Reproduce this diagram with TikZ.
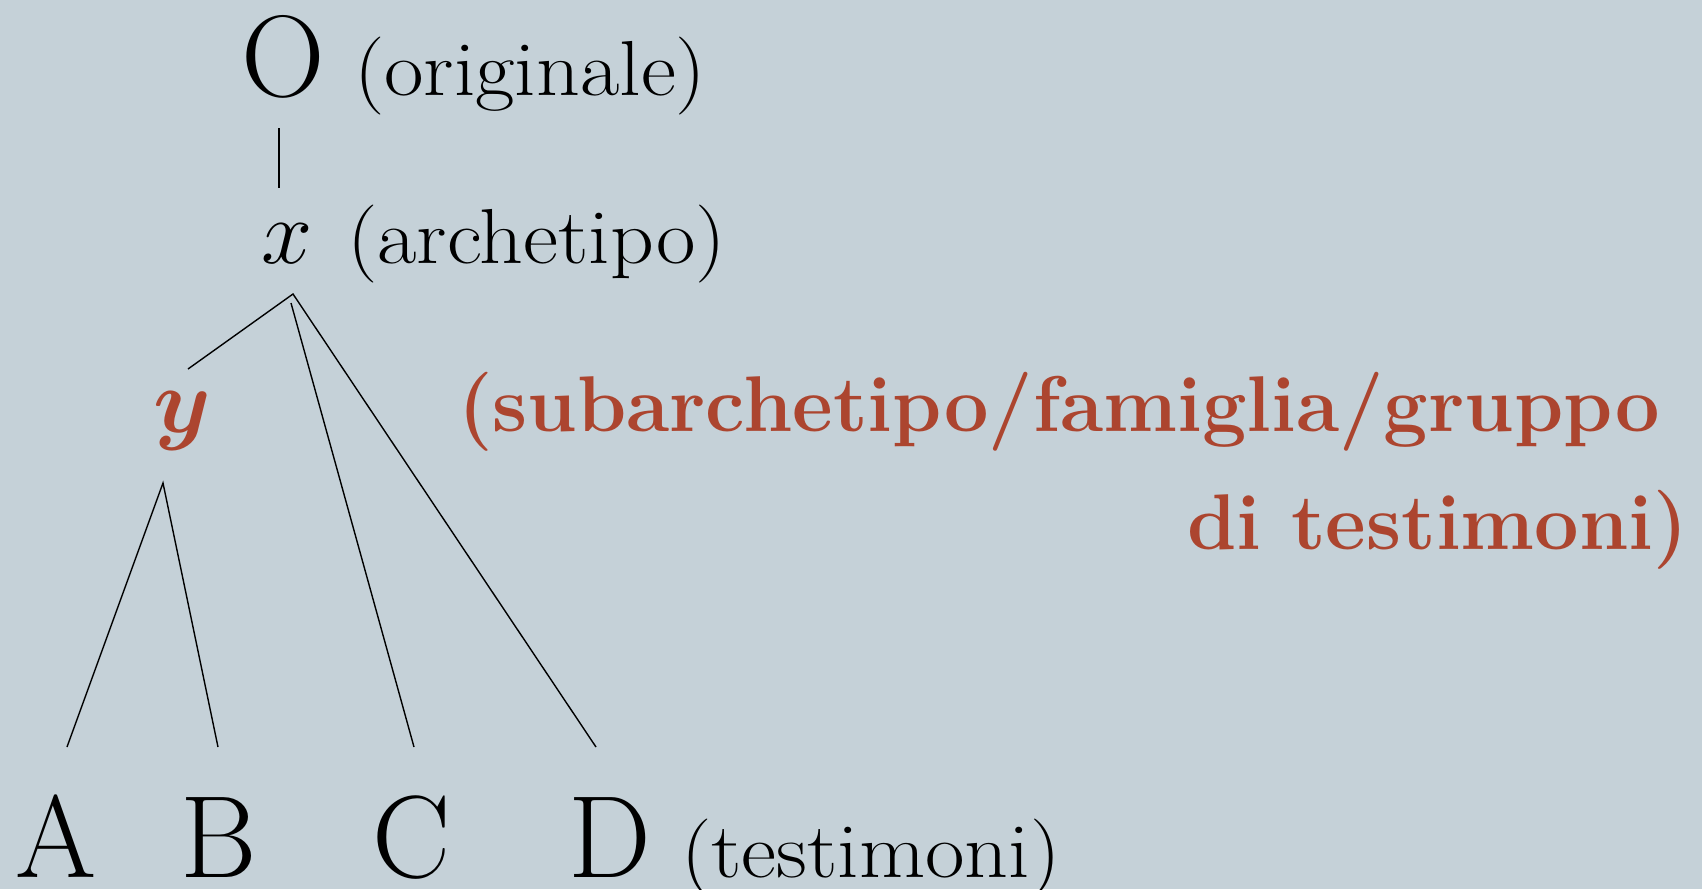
\RequirePackage{fix-cm}
\documentclass[tikz,border=0pt]{standalone}
\usepackage{bm}
\definecolor{bgc}{HTML}{C5D1D8}
\definecolor{redc}{HTML}{AC452F}
\newcommand{\widen}[1]{\scalebox{1.1}[1]{#1}}
\tikzset{
  txt/.style={inner sep=0pt, outer sep=0pt},
  big/.style={txt, anchor=base, font=\fontsize{117}{130}\selectfont},
  lab/.style={txt, anchor=base west, font=\fontsize{78}{90}\selectfont},
  redlab/.style={txt, text=redc, font=\fontsize{79}{92}\selectfont\bfseries},
  branch/.style={line width=1.4pt, black}
}
\begin{document}
\begin{tikzpicture}[x=1pt,y=-1pt]
\fill[bgc] (0,0) rectangle (1702,889);
\useasboundingbox (0,0) rectangle (1702,889);
% nodes
\node[big, font=\fontsize{116}{130}\selectfont] (O) at (283,96) {O};
\node[lab] (Olab) at (354,95) {\widen{(originale)}};
\node[txt, anchor=base, font=\fontsize{92}{110}\selectfont] (x) at (287,263) {$x$};
\node[lab] (xlab) at (347,263) {\widen{(archetipo)}};
\node[txt, anchor=base, text=redc, font=\fontsize{92}{110}\selectfont] (y) at (182,432) {$\bm{y}$};
\node[redlab, anchor=base west] (ylab1) at (458,431) {(subarchetipo/famiglia/gruppo};
\node[redlab, anchor=base east] (ylab2) at (1688,549) {di testimoni)};
\node[big] (A) at (56,877) {A};
\node[big] (B) at (219,877) {B};
\node[big] (C) at (412,877) {C};
\node[big] (D) at (610,877) {D};
\node[lab] (Dlab) at (681,877) {\widen{(testimoni)}};
% connector ends
\coordinate (Obot) at (279,128);
\coordinate (xtop) at (279,188);
\coordinate (xapex) at (293,294);
\coordinate (xapexC) at (291,303);
\coordinate (ytop) at (188,369);
\coordinate (yapex) at (163,483);
\coordinate (Atop) at (67,747);
\coordinate (Btop) at (218,747);
\coordinate (Ctop) at (414,747);
\coordinate (Dtop) at (596,747);
% connectors
\draw[branch] (Obot) -- (xtop);
\draw[branch] (ytop) -- (xapex) -- (Dtop);
\draw[branch] (xapexC) -- (Ctop);
\draw[branch] (Atop) -- (yapex) -- (Btop);
\end{tikzpicture}
\end{document}
